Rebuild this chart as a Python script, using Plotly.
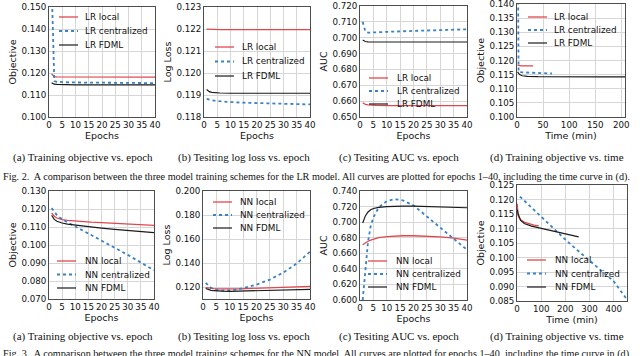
import plotly.graph_objects as go

W, H = 640, 356

# ---------------- Fig. 2 : LR model ----------------
lr_epochs = [1, 2, 3, 4, 6, 10, 15, 20, 25, 30, 35, 40]
lr_local_obj = [0.1195, 0.1184, 0.1182, 0.1182, 0.1181, 0.1181, 0.1181, 0.1181, 0.1181, 0.1181, 0.1181, 0.1181]
lr_cent_obj = [0.1600, 0.1163, 0.1160, 0.1159, 0.1158, 0.1157, 0.1156, 0.1156, 0.1155, 0.1155, 0.1154, 0.1154]
lr_fdml_obj = [0.1155, 0.1149, 0.1148, 0.1147, 0.1147, 0.1146, 0.1146, 0.1146, 0.1146, 0.1146, 0.1146, 0.1146]

lr_local_loss = [0.12199, 0.12198, 0.12197, 0.12197, 0.12197, 0.12197, 0.12197, 0.12197, 0.12197, 0.12197, 0.12197, 0.12197]
lr_cent_loss = [0.11882, 0.11878, 0.11876, 0.11874, 0.11871, 0.11868, 0.11865, 0.11863, 0.11861, 0.11859, 0.11858, 0.11857]
lr_fdml_loss = [0.11925, 0.11915, 0.11912, 0.11910, 0.11909, 0.11908, 0.11908, 0.11908, 0.11908, 0.11908, 0.11908, 0.11908]

lr_local_auc = [0.6590, 0.6580, 0.6576, 0.6574, 0.6573, 0.6572, 0.6572, 0.6572, 0.6572, 0.6572, 0.6572, 0.6572]
lr_cent_auc = [0.7100, 0.7040, 0.7032, 0.7033, 0.7035, 0.7037, 0.7040, 0.7043, 0.7046, 0.7049, 0.7051, 0.7053]
lr_fdml_auc = [0.6985, 0.6976, 0.6974, 0.6973, 0.6973, 0.6973, 0.6973, 0.6973, 0.6973, 0.6973, 0.6973, 0.6973]

lr_local_time = [1, 8, 16, 24, 31]
lr_local_time_obj = [0.1184, 0.1181, 0.1181, 0.1181, 0.1181]
lr_cent_time = [1.5, 3, 10, 20, 30, 40, 50, 60, 67]
lr_cent_time_obj = [0.1600, 0.1160, 0.1158, 0.1157, 0.1156, 0.1156, 0.1155, 0.1155, 0.1154]
lr_fdml_time = [1, 5, 10, 20, 40, 80, 120, 160, 207]
lr_fdml_time_obj = [0.1160, 0.1150, 0.1146, 0.1144, 0.1143, 0.1142, 0.1142, 0.1142, 0.1142]

# ---------------- Fig. 3 : NN model ----------------
nn_epochs = [1, 2, 3, 4, 5, 7, 10, 13, 16, 20, 25, 30, 35, 40]
nn_local_obj = [0.1178, 0.1160, 0.1150, 0.1145, 0.1141, 0.1137, 0.1133, 0.1130, 0.1127, 0.1124, 0.1120, 0.1116, 0.1112, 0.1109]
nn_cent_obj = [0.1205, 0.1183, 0.1166, 0.1153, 0.1143, 0.1126, 0.1103, 0.1080, 0.1057, 0.1025, 0.0985, 0.0945, 0.0903, 0.0860]
nn_fdml_obj = [0.1165, 0.1142, 0.1132, 0.1126, 0.1122, 0.1116, 0.1110, 0.1104, 0.1099, 0.1094, 0.1087, 0.1081, 0.1075, 0.1069]

nn_local_loss = [0.1195, 0.1190, 0.1187, 0.1186, 0.1185, 0.1184, 0.1184, 0.1185, 0.1187, 0.1190, 0.1194, 0.1198, 0.1202, 0.1205]
nn_cent_loss = [0.1235, 0.1210, 0.1193, 0.1183, 0.1177, 0.1172, 0.1172, 0.1180, 0.1195, 0.1220, 0.1262, 0.1320, 0.1395, 0.1495]
nn_fdml_loss = [0.1188, 0.1178, 0.1172, 0.1169, 0.1167, 0.1165, 0.1164, 0.1165, 0.1166, 0.1168, 0.1171, 0.1174, 0.1177, 0.1180]

nn_local_auc = [0.6710, 0.6735, 0.6755, 0.6770, 0.6780, 0.6800, 0.6815, 0.6822, 0.6825, 0.6825, 0.6820, 0.6810, 0.6795, 0.6770]
nn_cent_auc = [0.6000, 0.6420, 0.6750, 0.6950, 0.7060, 0.7190, 0.7270, 0.7295, 0.7280, 0.7215, 0.7075, 0.6925, 0.6785, 0.6645]
nn_fdml_auc = [0.6990, 0.7080, 0.7130, 0.7160, 0.7175, 0.7190, 0.7200, 0.7205, 0.7207, 0.7207, 0.7203, 0.7198, 0.7192, 0.7185]

nn_local_time = [1, 2, 4, 8, 15, 30, 50, 70, 90]
nn_local_time_obj = [0.1185, 0.1160, 0.1145, 0.1138, 0.1130, 0.1122, 0.1116, 0.1112, 0.1109]
nn_cent_time = [12, 50, 100, 150, 200, 250, 300, 350, 400, 455]
nn_cent_time_obj = [0.1210, 0.1180, 0.1140, 0.1100, 0.1062, 0.1025, 0.0990, 0.0955, 0.0918, 0.0855]
nn_fdml_time = [1, 5, 15, 30, 60, 100, 160, 210, 255]
nn_fdml_time_obj = [0.1165, 0.1150, 0.1128, 0.1117, 0.1108, 0.1100, 0.1090, 0.1080, 0.1071]

# tick labels
epoch_ticks = [0, 5, 10, 15, 20, 25, 30, 35, 40]
lr_time_ticks = [0, 50, 100, 150, 200]
nn_time_ticks = [0, 100, 200, 300, 400]
lr_obj_ticks = [0.100, 0.110, 0.120, 0.130, 0.140, 0.150]
lr_loss_ticks = [0.118, 0.119, 0.120, 0.121, 0.122, 0.123]
lr_auc_ticks = [0.650, 0.660, 0.670, 0.680, 0.690, 0.700, 0.710, 0.720]
lr_tobj_ticks = [0.100, 0.105, 0.110, 0.115, 0.120, 0.125, 0.130, 0.135, 0.140]
nn_obj_ticks = [0.070, 0.080, 0.090, 0.100, 0.110, 0.120, 0.130]
nn_loss_ticks = [0.120, 0.140, 0.160, 0.180, 0.200]
nn_auc_ticks = [0.600, 0.620, 0.640, 0.660, 0.680, 0.700, 0.720, 0.740]
nn_tobj_ticks = [0.085, 0.090, 0.095, 0.100, 0.105, 0.110, 0.115, 0.120, 0.125]

lr_names = ["LR local", "LR centralized", "LR FDML"]
nn_names = ["NN local", "NN centralized", "NN FDML"]
captions = ["(a) Training objective vs. epoch", "(b) Tesiting log loss vs. epoch",
            "(c) Tesiting AUC vs. epoch", "(d) Training objective vs. time"]
fig2_text = ("Fig. 2.  A comparison between the three model training schemes for the LR model. "
             "All curves are plotted for epochs 1–40, including the time curve in (d).")
fig3_text = ("Fig. 3.  A comparison between the three model training schemes for the NN model. "
             "All curves are plotted for epochs 1–40, including the time curve in (d).")

RED = "#e0474c"
BLUE = "#3a82c4"
BLACK = "#1a1a1a"
styles = [dict(color=RED, width=1.3),
          dict(color=BLUE, width=1.8, dash="dot"),
          dict(color=BLACK, width=1.2)]

# box = (left, right, top, bottom) in pixels; leg = (sample x, text x, first y, step)
panels = [
    dict(box=(49, 155, 7, 117), xr=[0, 40], xt=epoch_ticks, yr=[0.100, 0.150], yt=lr_obj_ticks,
         ytitle="Objective", xtitle="Epochs", names=lr_names, leg=(59, 83, 17, 14),
         series=[(lr_epochs, lr_local_obj), (lr_epochs, lr_cent_obj), (lr_epochs, lr_fdml_obj)]),
    dict(box=(204, 310, 7, 117), xr=[0, 40], xt=epoch_ticks, yr=[0.118, 0.123], yt=lr_loss_ticks,
         ytitle="Log Loss", xtitle="Epochs", names=lr_names, leg=(215, 240, 47, 14.5),
         series=[(lr_epochs, lr_local_loss), (lr_epochs, lr_cent_loss), (lr_epochs, lr_fdml_loss)]),
    dict(box=(360, 467, 6, 117), xr=[0, 40], xt=epoch_ticks, yr=[0.650, 0.720], yt=lr_auc_ticks,
         ytitle="AUC", xtitle="Epochs", names=lr_names, leg=(369, 395, 78, 13),
         series=[(lr_epochs, lr_local_auc), (lr_epochs, lr_cent_auc), (lr_epochs, lr_fdml_auc)]),
    dict(box=(517, 625, 4, 117), xr=[0, 207], xt=lr_time_ticks, yr=[0.100, 0.140], yt=lr_tobj_ticks,
         ytitle="Objective", xtitle="Time (min)", names=lr_names, leg=(528, 552, 17, 13),
         series=[(lr_local_time, lr_local_time_obj), (lr_cent_time, lr_cent_time_obj),
                 (lr_fdml_time, lr_fdml_time_obj)]),
    dict(box=(49, 154, 191, 299), xr=[0, 40], xt=epoch_ticks, yr=[0.070, 0.130], yt=nn_obj_ticks,
         ytitle="Objective", xtitle="Epochs", names=nn_names, leg=(57, 83, 261, 13.5),
         series=[(nn_epochs, nn_local_obj), (nn_epochs, nn_cent_obj), (nn_epochs, nn_fdml_obj)]),
    dict(box=(203, 310, 191, 299), xr=[0, 40], xt=epoch_ticks, yr=[0.110, 0.200], yt=nn_loss_ticks,
         ytitle="Log Loss", xtitle="Epochs", names=nn_names, leg=(213, 238, 202, 13),
         series=[(nn_epochs, nn_local_loss), (nn_epochs, nn_cent_loss), (nn_epochs, nn_fdml_loss)]),
    dict(box=(360, 467, 191, 300), xr=[0, 40], xt=epoch_ticks, yr=[0.600, 0.740], yt=nn_auc_ticks,
         ytitle="AUC", xtitle="Epochs", names=nn_names, leg=(368, 394, 261, 13),
         series=[(nn_epochs, nn_local_auc), (nn_epochs, nn_cent_auc), (nn_epochs, nn_fdml_auc)]),
    dict(box=(517, 627, 185, 301), xr=[0, 455], xt=nn_time_ticks, yr=[0.085, 0.125], yt=nn_tobj_ticks,
         ytitle="Objective", xtitle="Time (min)", names=nn_names, leg=(527, 553, 260, 13.5),
         series=[(nn_local_time, nn_local_time_obj), (nn_cent_time, nn_cent_time_obj),
                 (nn_fdml_time, nn_fdml_time_obj)]),
]

tick_font = dict(family="DejaVu Sans", size=8.7, color="#111")
title_font = dict(family="DejaVu Sans", size=9.5, color="#111")

fig = go.Figure()
layout = dict(width=W, height=H, margin=dict(l=0, r=0, t=0, b=0), autosize=False,
              paper_bgcolor="white", plot_bgcolor="white", showlegend=False)
shapes, annotations = [], []

for i, p in enumerate(panels):
    k = "" if i == 0 else str(i + 1)
    left, right, top, bottom = p["box"]
    for (xs, ys), st in zip(p["series"], styles):
        fig.add_trace(go.Scatter(x=xs, y=ys, mode="lines", line=st,
                                 xaxis="x" + k, yaxis="y" + k, hoverinfo="skip"))
    common = dict(showline=True, mirror=True, linecolor="#4d4d4d", linewidth=1,
                  showgrid=True, gridcolor="#d6d6d6", gridwidth=0.8, zeroline=False,
                  ticks="", tickfont=tick_font, tickangle=0, fixedrange=True,
                  automargin=False)
    layout["xaxis" + k] = dict(common, domain=[left / W, right / W], range=p["xr"],
                               tickmode="array", tickvals=p["xt"], anchor="y" + k,
                               title=dict(text=p["xtitle"], font=title_font, standoff=1))
    layout["yaxis" + k] = dict(common, domain=[1 - bottom / H, 1 - top / H], range=p["yr"],
                               tickmode="array", tickvals=p["yt"], tickformat=".3f",
                               anchor="x" + k,
                               title=dict(text=p["ytitle"], font=title_font, standoff=3))
    # in-plot legend
    sx, tx, y0, dy = p["leg"]
    for j, (name, st) in enumerate(zip(p["names"], styles)):
        yy = 1 - (y0 + j * dy) / H
        shapes.append(dict(type="line", xref="paper", yref="paper", x0=sx / W, x1=(sx + 19) / W,
                           y0=yy, y1=yy, line=st))
        annotations.append(dict(text=name, xref="paper", yref="paper", x=tx / W, y=yy,
                                xanchor="left", yanchor="middle", showarrow=False,
                                font=dict(family="DejaVu Sans", size=8.8, color="#111")))

cap_centers = [83, 244, 399, 557]
for row, cy in enumerate([157, 336]):
    for c, cx in zip(captions, cap_centers):
        annotations.append(dict(text=c, xref="paper", yref="paper", x=cx / W, y=1 - cy / H,
                                xanchor="center", yanchor="middle", showarrow=False,
                                font=dict(family="Liberation Serif", size=11, color="#111")))

for txt, cy in [(fig2_text, 177), (fig3_text, 354)]:
    annotations.append(dict(text=txt, xref="paper", yref="paper", x=1 / W, y=1 - cy / H,
                            xanchor="left", yanchor="middle", showarrow=False,
                            font=dict(family="Liberation Serif", size=10.2, color="#111")))

layout["shapes"] = shapes
layout["annotations"] = annotations
fig.update_layout(**layout)
# the page's default body margin would shift the figure; drop it
fig.write_html("out.html", config={"displayModeBar": False},
               post_script="document.body.style.margin='0px';")
